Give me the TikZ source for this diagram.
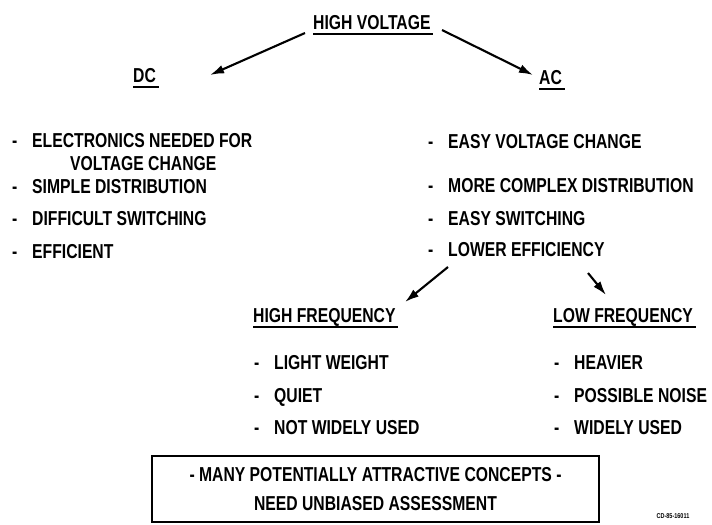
\documentclass[tikz,border=0pt]{standalone}
\usepackage{fontspec}
\setmainfont[FakeStretch=0.78]{Liberation Sans}
\usetikzlibrary{arrows.meta}

\newcommand{\bul}{\makebox[0.6cm][l]{-}}

\begin{document}
\begin{tikzpicture}[x=0.03cm, y=-0.03cm,
        txt/.style={anchor=base west, inner sep=0pt, font=\fontsize{17.2}{20}\selectfont\bfseries},
        uline/.style={line width=1.6pt},
        arr/.style={line width=1.8pt, -{Latex[length=12pt,width=7.5pt]}}]
    \useasboundingbox (0, 0) rectangle (712, 524);

    % headings
    \node[txt] (hv) at (313, 29) {HIGH VOLTAGE};
    \node[txt] (dc) at (133, 82) {DC};
    \node[txt] (ac) at (539, 84) {AC};
    \node[txt] (hf) at (253, 322) {HIGH FREQUENCY};
    \node[txt] (lf) at (553, 322) {LOW FREQUENCY};

    \foreach \n in {hv, dc, ac, hf, lf}
        \draw[uline] ([yshift=-4pt]\n.base west) -- ([yshift=-4pt,xshift=2pt]\n.base east);

    % DC list
    \node[txt] (dc1) at (12, 147) {\bul ELECTRONICS NEEDED FOR};
    \node[txt] (dc1b) at (70, 170) {VOLTAGE CHANGE};
    \node[txt] (dc2) at (12, 193) {\bul SIMPLE DISTRIBUTION};
    \node[txt] (dc3) at (12, 225) {\bul DIFFICULT SWITCHING};
    \node[txt] (dc4) at (12, 258) {\bul EFFICIENT};

    % AC list
    \node[txt] (ac1) at (428, 148) {\bul EASY VOLTAGE CHANGE};
    \node[txt] (ac2) at (428, 192) {\bul MORE COMPLEX DISTRIBUTION};
    \node[txt] (ac3) at (428, 225) {\bul EASY SWITCHING};
    \node[txt] (ac4) at (428, 256) {\bul LOWER EFFICIENCY};

    % high frequency
    \node[txt] (hf1) at (254, 369) {\bul LIGHT WEIGHT};
    \node[txt] (hf2) at (254, 402) {\bul QUIET};
    \node[txt] (hf3) at (254, 434) {\bul NOT WIDELY USED};

    % low frequency
    \node[txt] (lf1) at (554, 369) {\bul HEAVIER};
    \node[txt] (lf2) at (554, 402) {\bul POSSIBLE NOISE};
    \node[txt] (lf3) at (554, 434) {\bul WIDELY USED};

    % arrows
    \draw[arr] ([shift={(-8,4)}]hv.base west) -- ([shift={(77,-7)}]dc.base west);
    \draw[arr] ([shift={(129,1)}]hv.base west) -- ([shift={(-6,-9)}]ac.base west);
    \draw[arr] ([shift={(20,11)}]ac4.base west) -- ([shift={(152,-20)}]hf.base west);
    \draw[arr] ([shift={(160,17)}]ac4.base west) -- ([shift={(53,-27)}]lf.base west);

    % conclusion
    \node[draw, line width=1.3pt, minimum width=13.41cm, minimum height=1.98cm, align=center,
          font=\fontsize{17.2}{25.5}\selectfont\bfseries] (concl) at (375.5, 489)
        {- MANY POTENTIALLY ATTRACTIVE CONCEPTS -\\NEED UNBIASED ASSESSMENT};

    \node[inner sep=0pt, font=\fontsize{6}{7}\selectfont\bfseries] (cd) at (673, 516) {CD-85-16011};
\end{tikzpicture}
\end{document}
